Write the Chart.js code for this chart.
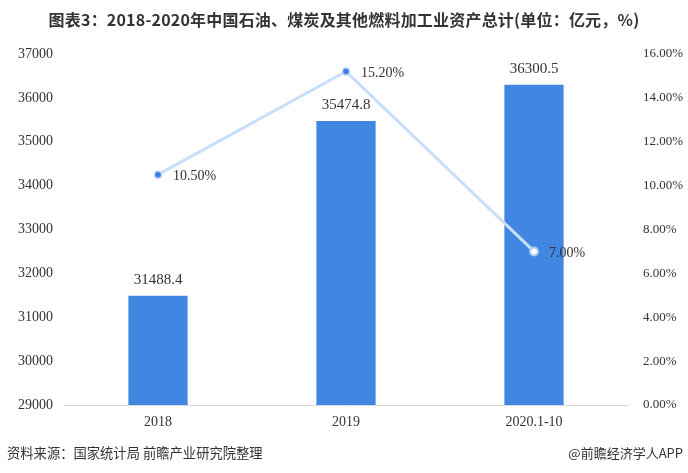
<!DOCTYPE html>
<html><head><meta charset="utf-8">
<script src="https://cdn.jsdelivr.net/npm/chart.js@4"></script>
<style>
html,body{margin:0;padding:0;background:#fff;}
#wrap{position:relative;width:688px;height:473px;}
#c{position:absolute;left:0;top:0;}
.title{position:absolute;left:0;top:7px;width:688px;text-align:center;font:bold 16px "Noto Sans CJK SC";color:#333;letter-spacing:0.2px;}
.src{position:absolute;left:7px;top:443px;font:13.3px "Noto Sans CJK SC";color:#333;}
.app{position:absolute;right:5px;top:443px;font:13px "Noto Sans CJK SC";color:#333;}
</style></head>
<body><div id="wrap">
<canvas id="c" width="688" height="473"></canvas>
<div class="title">图表3：2018-2020年中国石油、煤炭及其他燃料加工业资产总计(单位：亿元，%)</div>
<div class="src">资料来源：国家统计局 前瞻产业研究院整理</div>
<div class="app">@前瞻经济学人APP</div>
</div>
<script>
const categories = ['2018', '2019', '2020.1-10'];
const assets = [31488.4, 35474.8, 36300.5];
const growth = [10.5, 15.2, 7.0];
const assetLabels = ['31488.4', '35474.8', '36300.5'];
const growthLabels = ['10.50%', '15.20%', '7.00%'];

const serif = '"Liberation Serif", "DejaVu Serif", serif';
const tickFont = {family: serif, size: 14};
const rightFont = {family: serif, size: 13};

const labelPlugin = {
  id: 'labels',
  afterDatasetsDraw(chart) {
    const ctx = chart.ctx;
    ctx.save();
    ctx.fillStyle = '#333';
    ctx.font = '15px ' + serif;
    const bm = chart.getDatasetMeta(0);
    bm.data.forEach((el, i) => {
      ctx.textAlign = 'center';
      ctx.textBaseline = 'bottom';
      ctx.fillText(assetLabels[i], el.x, el.y - 8);
    });
    ctx.font = '14px ' + serif;
    const lm = chart.getDatasetMeta(1);
    lm.data.forEach((el, i) => {
      ctx.textAlign = 'left';
      ctx.textBaseline = 'middle';
      ctx.fillText(growthLabels[i], el.x + 15, el.y + 2);
    });
    ctx.restore();
  }
};

new Chart(document.getElementById('c'), {
  data: {
    labels: categories,
    datasets: [
      {type: 'bar', data: assets, yAxisID: 'y', backgroundColor: '#4186e0',
       barPercentage: 0.63, categoryPercentage: 0.5, order: 2},
      {type: 'line', data: growth, yAxisID: 'y1', borderColor: '#c9def8', borderWidth: 3,
       pointRadius: [3.5, 3.5, 4], pointBorderWidth: [1.5, 1.5, 2],
       pointBackgroundColor: ['#3b7de0', '#3b7de0', '#ffffff'],
       pointBorderColor: ['#b8d3f5', '#b8d3f5', '#a9c9f2'],
       tension: 0, order: 1}
    ]
  },
  options: {
    responsive: false, animation: false,
    layout: {padding: {top: 54, left: 0, right: 0, bottom: 0}},
    plugins: {legend: {display: false}, tooltip: {enabled: false}},
    scales: {
      x: {
        grid: {display: false, drawTicks: false},
        border: {display: true, color: '#d9d9d9', width: 1},
        ticks: {font: tickFont, color: '#333', padding: 9},
        afterFit: s => { s.height = 68; }
      },
      y: {
        position: 'left', min: 29000, max: 37000,
        grid: {display: false, drawTicks: false},
        border: {display: false},
        ticks: {stepSize: 1000, font: tickFont, color: '#333', padding: 11,
                callback: v => String(v)},
        afterFit: s => { s.width = 64; }
      },
      y1: {
        position: 'right', min: 0, max: 16,
        grid: {display: false, drawTicks: false},
        border: {display: false},
        ticks: {stepSize: 2, font: rightFont, color: '#333', padding: 15,
                callback: v => v.toFixed(2) + '%'},
        afterFit: s => { s.width = 60; }
      }
    }
  },
  plugins: [labelPlugin]
});
</script>
</body></html>
